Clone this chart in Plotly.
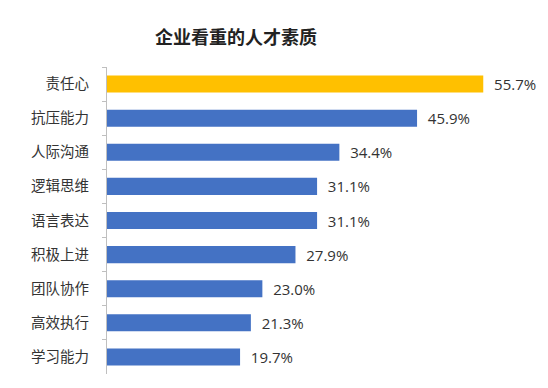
import plotly.graph_objects as go

categories = ["责任心", "抗压能力", "人际沟通", "逻辑思维", "语言表达", "积极上进", "团队协作", "高效执行", "学习能力"]
values = [55.7, 45.9, 34.4, 31.1, 31.1, 27.9, 23.0, 21.3, 19.7]
title_text = "企业看重的人才素质"

colors = ["#FFC000"] + ["#4472C4"] * (len(values) - 1)

font_family = "Noto Sans CJK SC, Microsoft YaHei, sans-serif"

fig = go.Figure(go.Bar(
    x=values,
    y=categories,
    orientation="h",
    marker=dict(color=colors, line=dict(width=0)),
    texttemplate="\u00a0\u00a0%{x:.1f}%",
    textposition="outside",
    constraintext="none",
    textfont=dict(size=15, color="#333333", family="Open Sans, sans-serif"),
    cliponaxis=False,
    hoverinfo="skip",
))

fig.update_layout(
    width=548, height=388,
    margin=dict(l=107, r=8, t=67, b=14),
    paper_bgcolor="white", plot_bgcolor="white",
    bargap=0.5,
    showlegend=False,
    title=dict(
        text="<b>" + title_text + "</b>",
        x=236 / 548, xanchor="center", xref="container",
        y=1 - 38 / 388, yanchor="middle", yref="container",
        font=dict(size=18, color="#222222", family=font_family),
    ),
    xaxis=dict(range=[0, 64.1], visible=False, showgrid=False, zeroline=False),
    yaxis=dict(
        autorange="reversed",
        showline=True, linecolor="#BFBFBF", linewidth=1,
        ticks="outside", ticklen=4, tickcolor="#BFBFBF",
        tickson="boundaries",
        ticklabelstandoff=14,
        tickfont=dict(size=14.5, color="#333333", family=font_family),
        showgrid=False,
    ),
)

fig.write_html("out.html")
